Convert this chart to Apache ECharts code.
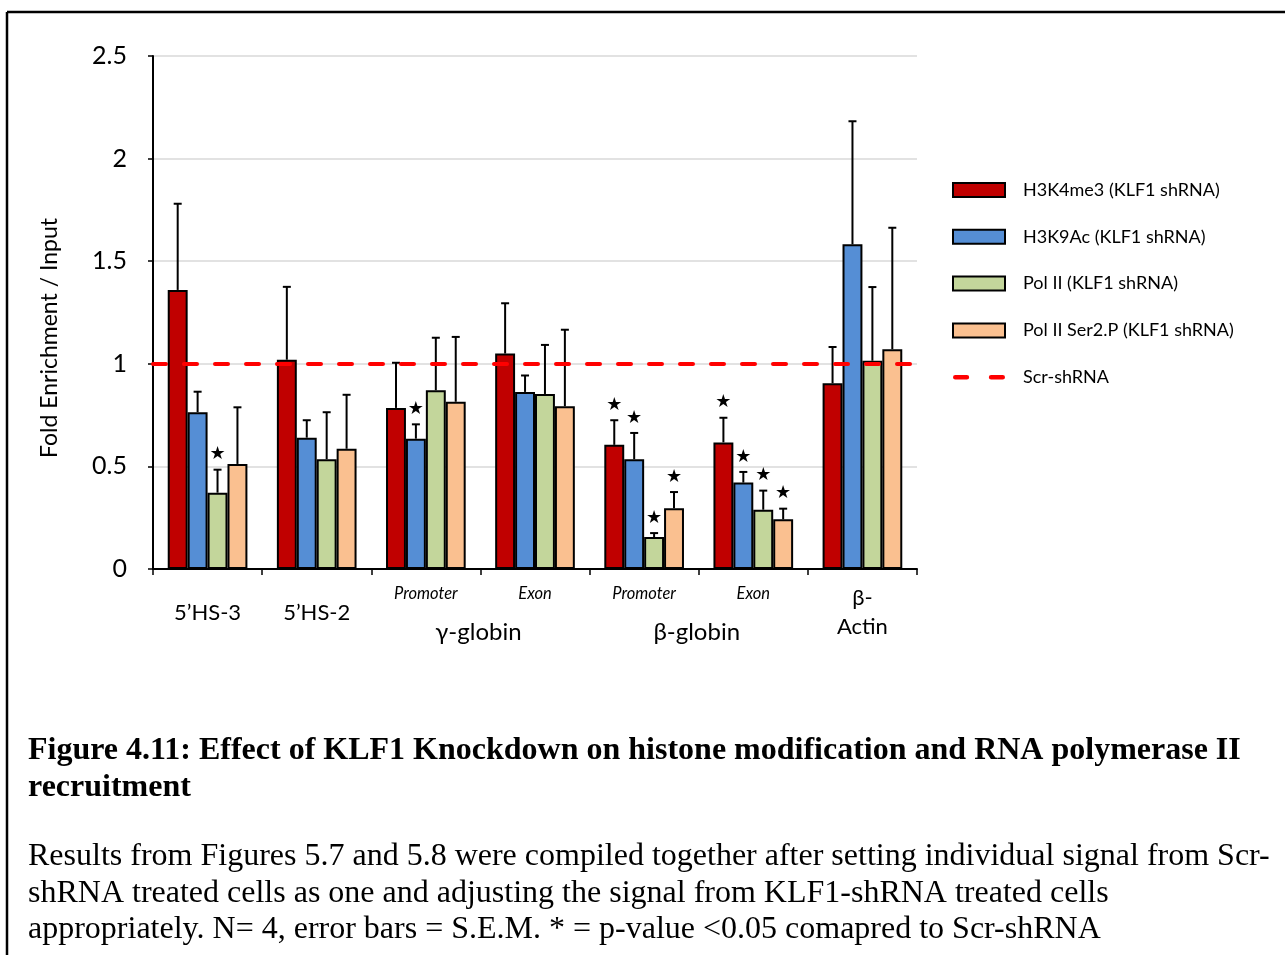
<!DOCTYPE html>
<html>
<head>
<meta charset="utf-8">
<script src="https://cdn.jsdelivr.net/npm/echarts@6/dist/echarts.min.js"></script>
<style>
html,body{margin:0;padding:0;background:#fff;}
#chart{width:1285px;height:955px;}
</style>
</head>
<body>
<div id="chart"></div>
<script>
// ---- data ----
const categories = ['5’HS-3', '5’HS-2', 'Promoter', 'Exon', 'Promoter', 'Exon', 'β-\nActin'];
const groupLabels = ['γ-globin', 'β-globin'];
const groupBoundaries = [[2, 3], [4, 5]]; // label sits between these two categories
const seriesNames = ['H3K4me3 (KLF1 shRNA)', 'H3K9Ac (KLF1 shRNA)', 'Pol II (KLF1 shRNA)', 'Pol II Ser2.P (KLF1 shRNA)'];
const h3k4me3     = [1.36, 1.02, 0.785, 1.05, 0.605, 0.617, 0.905];
const h3k4me3Err  = [0.42, 0.355, 0.22, 0.245, 0.12, 0.12, 0.177];
const h3k9ac      = [0.764, 0.64, 0.635, 0.863, 0.535, 0.421, 1.582];
const h3k9acErr   = [0.10, 0.085, 0.07, 0.08, 0.128, 0.052, 0.60];
const polII       = [0.372, 0.535, 0.871, 0.853, 0.156, 0.289, 1.015];
const polIIErr    = [0.112, 0.229, 0.256, 0.239, 0.019, 0.093, 0.359];
const polIIS2     = [0.512, 0.586, 0.815, 0.793, 0.296, 0.242, 1.071];
const polIIS2Err  = [0.276, 0.263, 0.316, 0.373, 0.079, 0.052, 0.592];
const h3k4me3Sig  = [0, 0, 0, 0, 1, 1, 0];
const h3k9acSig   = [0, 0, 1, 0, 1, 1, 0];
const polIISig    = [1, 0, 0, 0, 1, 1, 0];
const polIIS2Sig  = [0, 0, 0, 0, 1, 1, 0];
const scrName = 'Scr-shRNA';
const scrLevel = 1;
const yTicks = { min: 0, max: 2.5, interval: 0.5 };
const captionTitle = ['Figure 4.11: Effect of KLF1 Knockdown on histone modification and RNA polymerase II', 'recruitment'];
const captionBody = [
  'Results from Figures 5.7 and 5.8 were compiled together after setting individual signal from Scr-',
  'shRNA treated cells as one and adjusting the signal from KLF1-shRNA treated cells',
  'appropriately. N= 4, error bars = S.E.M. * = p-value <0.05 comapred to Scr-shRNA'
];

// ---- styling ----
const colors = ['#C00000', '#558ED5', '#C3D69B', '#FAC090'];
const values = [h3k4me3, h3k9ac, polII, polIIS2];
const errs = [h3k4me3Err, h3k9acErr, polIIErr, polIIS2Err];
const sigs = [h3k4me3Sig, h3k9acSig, polIISig, polIIS2Sig];
const CAT_GAP = 0.27;
const SANS = 'Lato';
const DASH_ICON = 'path://M2,0H12A2,2,0,0,1,12,4H2A2,2,0,0,1,2,0ZM33,0H43A2,2,0,0,1,43,4H33A2,2,0,0,1,33,0Z';

const chart = echarts.init(document.getElementById('chart'));

const series = [];
seriesNames.forEach((name, i) => {
  series.push({
    type: 'bar', name: name, data: values[i],
    barGap: '0%', barCategoryGap: (CAT_GAP * 100) + '%',
    itemStyle: { color: colors[i], borderColor: '#000', borderWidth: 2 },
    z: 2
  });
});
seriesNames.forEach((name, i) => {
  series.push({
    type: 'custom', name: name + ' err', z: 5,
    data: values[i].map((v, k) => [k, v, errs[i][k], sigs[i][k]]),
    encode: { x: 0, y: 1 },
    renderItem: function (params, api) {
      const catW = api.size([1, 0])[0];
      const bw = catW * (1 - CAT_GAP) / 4;
      const base = api.coord([api.value(0), api.value(1)]);
      const top = api.coord([api.value(0), api.value(1) + api.value(2)]);
      const cx = base[0] + (i - 1.5) * bw;
      const ls = { stroke: '#000', lineWidth: 2 };
      const children = [
        { type: 'line', shape: { x1: cx, y1: base[1], x2: cx, y2: top[1] }, style: ls },
        { type: 'line', shape: { x1: cx - 4, y1: top[1], x2: cx + 4, y2: top[1] }, style: ls }
      ];
      if (api.value(3)) {
        children.push({ type: 'text', x: cx, y: top[1] - 15,
          style: { text: '★', fill: '#000', font: '18px "DejaVu Sans"', align: 'center', verticalAlign: 'middle' } });
      }
      return { type: 'group', children: children };
    }
  });
});
series.push({
  type: 'line', name: scrName, data: [], symbol: 'none', z: 6,
  itemStyle: { color: '#FF0000' },
  lineStyle: { color: '#FF0000', width: 4, type: [13, 18], cap: 'round' },
  markLine: {
    silent: true, symbol: ['none', 'none'], label: { show: false },
    lineStyle: { color: '#FF0000', width: 4, type: [13, 18], cap: 'round' },
    data: [{ yAxis: scrLevel }], z: 6
  }
});

const option = {
  backgroundColor: '#fff',
  animation: false,
  grid: { left: 153, right: 368, top: 56, bottom: 386, containLabel: false },
  legend: {
    orient: 'vertical', left: 947, top: 176, itemWidth: 52, itemHeight: 14, itemGap: 28.8,
    data: seriesNames.map(n => ({ name: n, icon: 'rect', itemStyle: { borderColor: '#000', borderWidth: 2 } }))
      .concat([{ name: scrName, icon: DASH_ICON, itemStyle: { color: '#FF0000', borderWidth: 0 } }]),
    textStyle: { fontFamily: SANS, fontSize: 18, color: '#000', lineHeight: 14, padding: [0, 0, 0, 13] },
    selectedMode: false
  },
  xAxis: {
    type: 'category', data: categories,
    axisLine: { lineStyle: { color: '#000', width: 2 } },
    axisTick: { show: true, length: 6, lineStyle: { color: '#000', width: 1.5 } },
    axisLabel: {
      interval: 0, margin: 14, color: '#000', fontFamily: SANS,
      formatter: function (value, index) {
        if (index < 2) return '{hs|' + value + '}';
        if (index < 6) return '{it|' + value + '}';
        return value.split('\n').map(s => '{ac|' + s + '}').join('\n');
      },
      rich: {
        hs: { fontFamily: SANS, fontSize: 22, lineHeight: 60, color: '#000' },
        it: { fontFamily: SANS, fontSize: 16.5, fontStyle: 'italic', lineHeight: 22, color: '#000' },
        ac: { fontFamily: SANS, fontSize: 22, lineHeight: 29, color: '#000' }
      }
    },
    splitLine: { show: false }
  },
  yAxis: {
    type: 'value', min: yTicks.min, max: yTicks.max, interval: yTicks.interval,
    axisLine: { show: true, lineStyle: { color: '#000', width: 2 } },
    axisTick: { show: true, length: 5, lineStyle: { color: '#000', width: 1.5 } },
    axisLabel: { margin: 26, color: '#000', fontFamily: SANS, fontSize: 25 },
    splitLine: { lineStyle: { color: '#d9d9d9', width: 1.5 } }
  },
  series: series
};
chart.setOption(option);

// graphic: axis title, group labels (positioned through the axis scale), caption, frame
function buildGraphic() {
  const g = [];
  g.push({ type: 'line', shape: { x1: 7, y1: 12, x2: 1285, y2: 12 }, style: { stroke: '#000', lineWidth: 2.5 } });
  g.push({ type: 'line', shape: { x1: 7, y1: 12, x2: 7, y2: 955 }, style: { stroke: '#000', lineWidth: 2.5 } });
  g.push({ type: 'text', x: 50, y: 338, rotation: Math.PI / 2,
    style: { text: 'Fold Enrichment / Input', font: '23px ' + SANS, fill: '#000', align: 'center', verticalAlign: 'middle' } });
  groupLabels.forEach((lab, j) => {
    const a = chart.convertToPixel({ xAxisIndex: 0 }, groupBoundaries[j][0]);
    const b = chart.convertToPixel({ xAxisIndex: 0 }, groupBoundaries[j][1]);
    g.push({ type: 'text', x: (a + b) / 2 - 2, y: 632,
      style: { text: lab, font: '24px ' + SANS, fill: '#000', align: 'center', verticalAlign: 'middle' } });
  });
  captionTitle.forEach((t, k) => {
    g.push({ type: 'text', x: 28, y: 751 + k * 37,
      style: { text: t, font: 'bold 32px "Liberation Serif"', fill: '#000', align: 'left', verticalAlign: 'middle' } });
  });
  captionBody.forEach((t, k) => {
    g.push({ type: 'text', x: 28, y: 857 + k * 36.5,
      style: { text: t, font: '32px "Liberation Serif"', fill: '#000', align: 'left', verticalAlign: 'middle' } });
  });
  return g;
}
chart.setOption({ graphic: buildGraphic() });
</script>
</body>
</html>
